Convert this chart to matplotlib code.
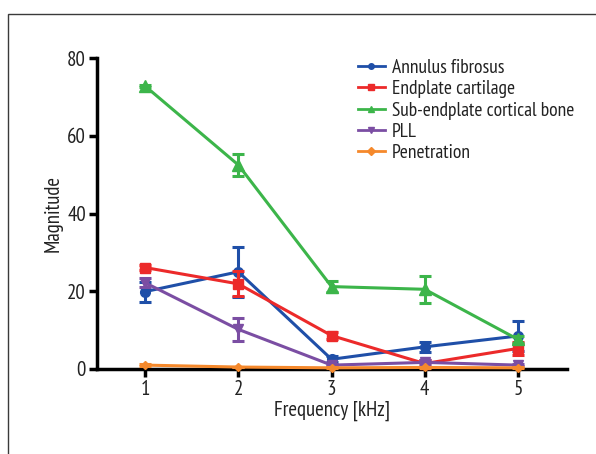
import matplotlib
matplotlib.use('Agg')
import matplotlib.pyplot as plt
from matplotlib.patches import Rectangle
from matplotlib.lines import Line2D

plt.rcParams['font.family'] = ['PT Sans Narrow', 'DejaVu Sans']

freq = [1, 2, 3, 4, 5]

annulus = [19.9, 25.0, 2.5, 5.7, 8.5]
annulus_err = [2.6, 6.4, 0.8, 1.3, 3.9]
endplate = [26.1, 21.9, 8.6, 1.4, 5.3]
endplate_err = [0.6, 3.2, 0.8, 0.8, 1.6]
subendplate = [72.8, 52.5, 21.2, 20.5, 7.6]
subendplate_err = [0.3, 2.8, 1.5, 3.4, 0.8]
pll = [22.2, 10.2, 1.0, 1.7, 1.0]
pll_err = [1.2, 3.0, 0.3, 0.5, 0.3]
penetration = [1.0, 0.5, 0.3, 0.4, 0.3]
penetration_err = [0.2, 0.1, 0.1, 0.1, 0.1]

labels = ['Annulus fibrosus', 'Endplate cartilage', 'Sub-endplate cortical bone', 'PLL', 'Penetration']
colors = ['#1f4fa8', '#ec2a2a', '#3cb54a', '#7b4ea3', '#f5892c']
markers = ['o', 's', '^', 'v', 'D']
msizes = [7, 7, 8, 7, 4]

fig = plt.figure(figsize=(5.96, 4.54), dpi=100)
# grey frame round the figure
fig.patches.append(Rectangle((8/596, -0.1), 1.2, 1 - 14/454 + 0.1, transform=fig.transFigure,
                             fill=False, edgecolor='#3a3a3a', linewidth=1.0))
ax = fig.add_axes([97/596, 1 - 369/454, (567 - 97)/596, (369 - 58)/454])

series = [(annulus, annulus_err), (endplate, endplate_err), (subendplate, subendplate_err),
          (pll, pll_err), (penetration, penetration_err)]
order = [4, 3, 1, 0, 2]
for i in order:
    y, e = series[i]
    ax.errorbar(freq, y, yerr=e, color=colors[i], marker=markers[i], ms=msizes[i],
                lw=2.2, elinewidth=2.2, capsize=4, capthick=2.2, label=labels[i],
                zorder=3 + i, clip_on=False)

ax.set_xlim(0.485, 5.525)
ax.set_ylim(0, 80)
ax.set_xticks(freq)
ax.set_yticks([0, 20, 40, 60, 80])
ax.spines['top'].set_visible(False)
ax.spines['right'].set_visible(False)
ax.spines['left'].set_linewidth(2.5)
ax.spines['bottom'].set_linewidth(2.5)
ax.tick_params(width=2.5, length=6, labelsize=15, colors='black', pad=2)
for lab in ax.get_xticklabels() + ax.get_yticklabels():
    lab.set_color('#222222')
ax.set_xlabel('Frequency [kHz]', fontsize=15, labelpad=1, color='#222222')
ax.set_ylabel('Magnitude', fontsize=15, color='#222222')
ax.yaxis.set_label_coords(-0.074, 0.5)

leg_h = []
for i in range(5):
    leg_h.append(Line2D([], [], color=colors[i], marker=markers[i], ms=4, lw=2))
ax.legend(leg_h, labels, loc='upper left', bbox_to_anchor=(0.555, 0.997), frameon=False,
          fontsize=14, handlelength=1.4, handletextpad=0.36, labelspacing=0.17,
          borderpad=0, borderaxespad=0, labelcolor='#222222')

fig.savefig('out.png', dpi=100)
